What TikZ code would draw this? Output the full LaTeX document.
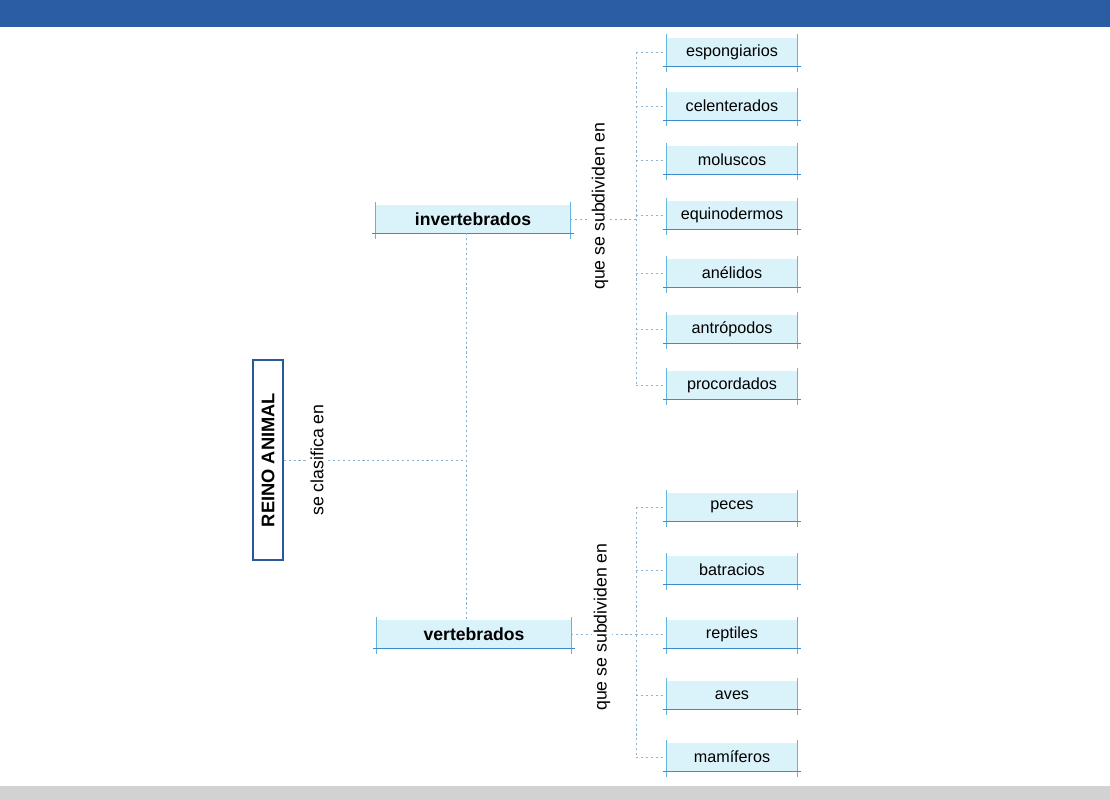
\documentclass[tikz,border=0pt]{standalone}
\usepackage{fontspec}
\setmainfont{Liberation Sans}
\definecolor{bandblue}{RGB}{42,94,164}
\definecolor{bandgray}{RGB}{210,210,210}
\definecolor{boxfill}{RGB}{218,242,250}
\definecolor{edgeblue}{RGB}{100,180,220}
\definecolor{baseblue}{RGB}{60,140,205}
\definecolor{linkblue}{RGB}{135,180,210}
\definecolor{rootblue}{RGB}{40,90,155}

\begin{document}
\begin{tikzpicture}[x=0.025cm, y=-0.025cm,
    link/.style={draw=linkblue, line width=0.5pt, dash pattern=on 1.5pt off 2pt},
    sideline/.style={draw=edgeblue, line width=0.6pt},
    bottomline/.style={draw=baseblue, line width=1pt},
    concept/.style={fill=boxfill, inner sep=0pt,
      append after command={
        ([yshift=2pt]\tikzlastnode.north west) edge[sideline] ([yshift=-4pt]\tikzlastnode.south west)
        ([yshift=2pt]\tikzlastnode.north east) edge[sideline] ([yshift=-4pt]\tikzlastnode.south east)
        ([xshift=-2.5pt]\tikzlastnode.south west) edge[bottomline] ([xshift=2.5pt]\tikzlastnode.south east)}},
    group/.style={concept, minimum width=4.85cm, minimum height=0.7cm,
      font=\bfseries\fontsize{12.5}{14}\selectfont},
    kind/.style={concept, minimum width=3.25cm, minimum height=0.72cm,
      font=\fontsize{11.5}{13}\selectfont},
    root/.style={draw=rootblue, line width=1pt, fill=white, rotate=90, inner sep=0pt,
      minimum width=5.0cm, minimum height=0.75cm, font=\bfseries\fontsize{13}{15}\selectfont},
    linktext/.style={fill=white, rotate=90, inner sep=1.5pt, font=\fontsize{12.6}{14}\selectfont}]
   \useasboundingbox (0,0) rectangle (1110,800);
   \fill[bandblue] (0,0) rectangle (1110,27);
   \fill[bandgray] (0,786) rectangle (1110,800);

   \node[root] (reino) at (268,460) {REINO ANIMAL};

   \node[group] (inv)  at (473,219) {invertebrados};
   \node[group] (vert) at (474,634) {vertebrados};

   \node[kind] (esp) at (732,52)  {espongiarios};
   \node[kind] (cel) at (732,106) {celenterados};
   \node[kind] (mol) at (732,160) {moluscos};
   \node[kind] (equ) at (732,215) {equinodermos};
   \node[kind] (ane) at (732,273) {anélidos};
   \node[kind] (ant) at (732,329) {antrópodos};
   \node[kind] (pro) at (732,385) {procordados};

   \node[kind] (pec) at (732,507) {peces};
   \node[kind] (bat) at (732,570) {batracios};
   \node[kind] (rep) at (732,634) {reptiles};
   \node[kind] (ave) at (732,695) {aves};
   \node[kind] (mam) at (732,757) {mamíferos};

   \coordinate (split) at (466,460);
   \coordinate (ti) at (636,219);
   \coordinate (tv) at (636,634);

   \draw[link] (reino) -- (split);
   \draw[link] (inv.south -| split) -- (vert.north -| split);

   \draw[link] (inv) -- (ti);
   \draw[link] (esp.west -| ti) -- (pro.west -| ti);
   \draw[link] (esp.west -| ti) -- (esp);
   \draw[link] (cel.west -| ti) -- (cel);
   \draw[link] (mol.west -| ti) -- (mol);
   \draw[link] (equ.west -| ti) -- (equ);
   \draw[link] (ane.west -| ti) -- (ane);
   \draw[link] (ant.west -| ti) -- (ant);
   \draw[link] (pro.west -| ti) -- (pro);

   \draw[link] (vert) -- (tv);
   \draw[link] (pec.west -| tv) -- (mam.west -| tv);
   \draw[link] (pec.west -| tv) -- (pec);
   \draw[link] (bat.west -| tv) -- (bat);
   \draw[link] (rep.west -| tv) -- (rep);
   \draw[link] (ave.west -| tv) -- (ave);
   \draw[link] (mam.west -| tv) -- (mam);

   \node[linktext] (clasifica) at (317,460) {se clasifica en};
   \node[linktext] (subinv)    at (600,206) {que se subdividen en};
   \node[linktext] (subvert)   at (602,627) {que se subdividen en};
\end{tikzpicture}
\end{document}
